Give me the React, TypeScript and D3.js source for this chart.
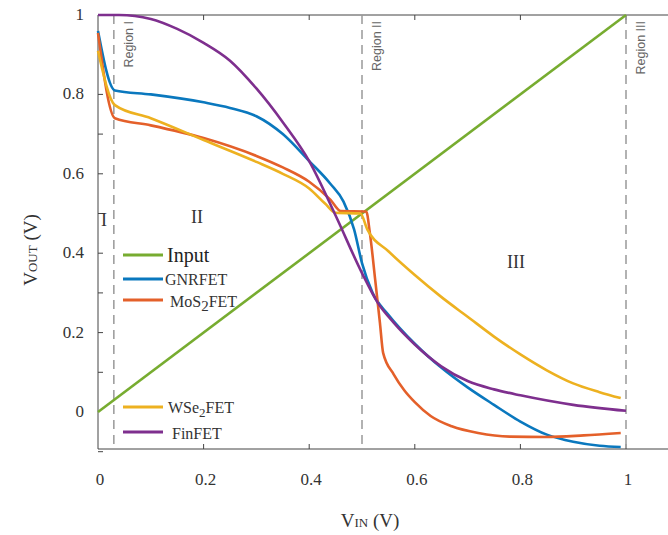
import * as d3 from "d3";

// series data: [VIN, VOUT]
const inputPts: [number, number][] = [[0, 0], [1, 1]];
const gnrPts: [number, number][] = [
  [0, 0.96], [0.032, 0.81], [0.1, 0.8], [0.2, 0.78], [0.25, 0.766], [0.3, 0.745],
  [0.35, 0.7], [0.4, 0.632], [0.44, 0.575], [0.465, 0.53], [0.485, 0.46], [0.5, 0.375],
  [0.52, 0.3], [0.55, 0.245], [0.6, 0.172], [0.65, 0.112], [0.7, 0.062], [0.75, 0.018],
  [0.8, -0.024], [0.85, -0.057], [0.9, -0.075], [0.95, -0.085], [0.99, -0.088],
];
const mos2Pts: [number, number][] = [
  [0, 0.955], [0.032, 0.74], [0.1, 0.722], [0.2, 0.69], [0.3, 0.645], [0.35, 0.616],
  [0.4, 0.58], [0.44, 0.535], [0.46, 0.506], [0.508, 0.505], [0.515, 0.45], [0.525, 0.333],
  [0.534, 0.224], [0.54, 0.149], [0.56, 0.095], [0.58, 0.055], [0.6, 0.025], [0.63, -0.01],
  [0.67, -0.036], [0.72, -0.053], [0.78, -0.062], [0.85, -0.063], [0.92, -0.059], [0.99, -0.053],
];
const wse2Pts: [number, number][] = [
  [0, 0.91], [0.032, 0.773], [0.1, 0.74], [0.2, 0.685], [0.3, 0.63], [0.35, 0.6],
  [0.4, 0.563], [0.43, 0.525], [0.45, 0.502], [0.497, 0.5], [0.51, 0.46], [0.55, 0.405],
  [0.6, 0.345], [0.65, 0.29], [0.7, 0.24], [0.75, 0.19], [0.8, 0.145], [0.85, 0.105],
  [0.9, 0.072], [0.95, 0.05], [0.99, 0.035],
];
const finPts: [number, number][] = [
  [0, 1.0], [0.04, 1.0], [0.1, 0.99], [0.15, 0.965], [0.2, 0.93], [0.25, 0.885], [0.3, 0.815],
  [0.35, 0.73], [0.4, 0.632], [0.45, 0.495], [0.5, 0.35], [0.53, 0.275], [0.56, 0.225],
  [0.6, 0.17], [0.65, 0.115], [0.7, 0.078], [0.75, 0.057], [0.8, 0.042], [0.9, 0.018], [1.0, 0.003],
];

const xTicks = [0, 0.2, 0.4, 0.6, 0.8, 1];
const yTicks = [0, 0.2, 0.4, 0.6, 0.8, 1];
const yMinorTicks = [-0.1, 0.1, 0.2, 0.3, 0.4, 0.5, 0.6, 0.7, 0.8, 0.9];
const regionX = [0.03, 0.5, 1.0];
const regionNames = ["Region I", "Region II", "Region III"];

const series = [
  { name: "Input", pts: inputPts, color: "#77AC30" },
  { name: "GNRFET", pts: gnrPts, color: "#0A78BE" },
  { name: "MoS2FET", pts: mos2Pts, color: "#E4602A" },
  { name: "WSe2FET", pts: wse2Pts, color: "#EDB120" },
  { name: "FinFET", pts: finPts, color: "#7E2F8E" },
];

const W = 668;
const H = 535;
const left = 98, top = 15, bottom = 449;
const serif = "'Liberation Serif', 'Times New Roman', serif";

export default function App() {
  const x = d3.scaleLinear().domain([0, 1]).range([left, 626]);
  const y = d3.scaleLinear().domain([0, 1]).range([412, top]);
  const line = d3
    .line<[number, number]>()
    .x((d) => x(d[0]))
    .y((d) => y(d[1]))
    .curve(d3.curveMonotoneX);

  // legend rows
  const legendY = [255, 279, 300, 407, 432];

  return (
    <div style={{ position: "absolute", left: 0, top: 0 }}>
      <svg width={W} height={H} style={{ display: "block", background: "#fff" }}>
        {/* frame */}
        <line x1={left} x2={left} y1={top} y2={bottom} stroke="#444" />
        <line x1={left} x2={W} y1={top} y2={top} stroke="#444" />
        <line x1={left} x2={W} y1={bottom} y2={bottom} stroke="#444" />
        {xTicks.slice(1).map((t) => (
          <g key={"xt" + t}>
            <line x1={x(t)} x2={x(t)} y1={bottom} y2={bottom - 5} stroke="#444" />
            <line x1={x(t)} x2={x(t)} y1={top} y2={top + 5} stroke="#444" />
          </g>
        ))}
        {yMinorTicks.map((t) => (
          <line key={"yt" + t} x1={left} x2={left + 5} y1={y(t)} y2={y(t)} stroke="#444" />
        ))}

        {/* region dividers */}
        {regionX.map((r, i) => (
          <g key={"r" + i}>
            <line x1={x(r)} x2={x(r)} y1={top} y2={bottom} stroke="#999" strokeWidth={1.5} strokeDasharray="9,6" />
            <text
              transform={`translate(${x(r) + 19},${top + 6}) rotate(-90)`}
              textAnchor="end"
              fontFamily="'Liberation Sans', Arial, sans-serif"
              fontSize={12.5}
              fill="#666"
            >
              {regionNames[i]}
            </text>
          </g>
        ))}

        {/* curves */}
        {series.map((s) => (
          <path key={s.name} d={line(s.pts) || ""} fill="none" stroke={s.color} strokeWidth={2.6} />
        ))}

        {/* roman numerals */}
        <text x={104} y={226} fontFamily={serif} fontSize={18} fill="#333" textAnchor="middle">I</text>
        <text x={197} y={223} fontFamily={serif} fontSize={18} fill="#333" textAnchor="middle">II</text>
        <text x={516} y={268} fontFamily={serif} fontSize={18} fill="#333" textAnchor="middle">III</text>

        {/* legend */}
        {series.map((s, i) => (
          <line key={"lg" + s.name} x1={123} x2={163} y1={legendY[i]} y2={legendY[i]} stroke={s.color} strokeWidth={3} />
        ))}
        <text x={167} y={262} fontFamily={serif} fontSize={20} fill="#222">Input</text>
        <text x={165} y={285} fontFamily={serif} fontSize={16} fill="#333">GNRFET</text>
        <text x={170} y={307} fontFamily={serif} fontSize={16} fill="#333">
          MoS<tspan dy={4} fontSize={15}>2</tspan><tspan dy={-4}>FET</tspan>
        </text>
        <text x={168} y={413} fontFamily={serif} fontSize={16} fill="#333">
          WSe<tspan dy={4} fontSize={13}>2</tspan><tspan dy={-4}>FET</tspan>
        </text>
        <text x={172} y={439} fontFamily={serif} fontSize={16} fill="#333">FinFET</text>

        {/* tick labels */}
        {xTicks.map((t) => (
          <text key={"xl" + t} x={x(t) + 2} y={485} textAnchor="middle" fontFamily={serif} fontSize={17} fill="#333">
            {d3.format("~g")(t)}
          </text>
        ))}
        {yTicks.map((t) => (
          <text key={"yl" + t} x={84} y={y(t) + 5} textAnchor="end" fontFamily={serif} fontSize={17} fill="#333">
            {d3.format("~g")(t)}
          </text>
        ))}

        {/* axis titles */}
        <text x={370} y={527} textAnchor="middle" fontFamily={serif} fontSize={19} fill="#333">
          V<tspan fontSize={13}>IN</tspan> (V)
        </text>
        <text transform="translate(37,250) rotate(-90)" textAnchor="middle" fontFamily={serif} fontSize={19} fill="#333">
          V<tspan fontSize={13}>OUT</tspan> (V)
        </text>
      </svg>
    </div>
  );
}
